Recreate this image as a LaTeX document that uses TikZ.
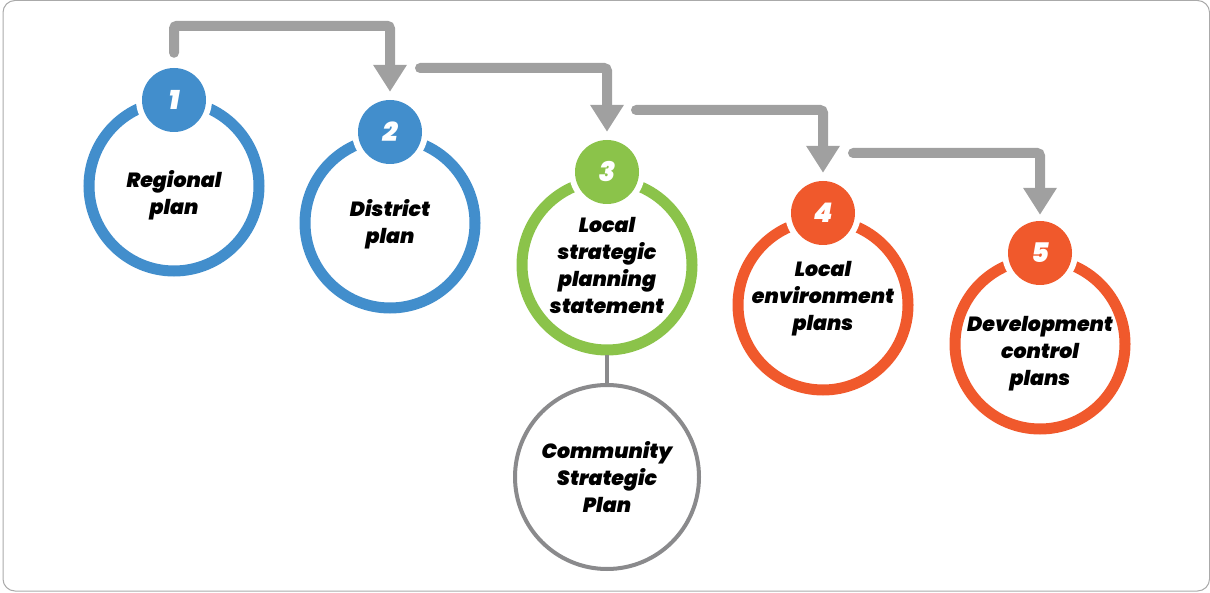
\documentclass[tikz,border=0pt]{standalone}
\usepackage{fontspec}
\IfFontExistsTF{Poppins Black Italic}
  {\setmainfont{Poppins}[BoldItalicFont={Poppins Black Italic}]}
  {\IfFontExistsTF{Poppins ExtraBold Italic}
    {\setmainfont{Poppins}[BoldItalicFont={Poppins ExtraBold Italic}]}
    {\setmainfont{Poppins}}}
\usetikzlibrary{arrows.meta}
\definecolor{planblue}{RGB}{66,142,204}
\definecolor{plangreen}{RGB}{139,195,74}
\definecolor{planorange}{RGB}{240,89,44}
\definecolor{arrowgray}{RGB}{160,160,160}
\definecolor{ringgray}{RGB}{138,138,140}
\definecolor{framegray}{RGB}{170,170,170}

\begin{document}
\begin{tikzpicture}[x=1pt, y=-1pt,
    ring/.style={circle, draw=#1, line width=11pt, minimum size=170pt, inner sep=0pt},
    badge/.style={circle, fill=#1, minimum size=64pt, inner sep=0pt,
      preaction={draw=white, line width=12pt}, text=white,
      font=\fontsize{27}{27}\selectfont\bfseries\itshape},
    txt/.style={align=center, font=\fontsize{20.5}{27}\selectfont\bfseries\itshape},
    flow/.style={draw=arrowgray, line width=10pt, rounded corners=3pt, line cap=round,
      -{Triangle[width=32pt, length=27pt]}}]
    \useasboundingbox (0,0) rectangle (1210,593);
    \draw[framegray, line width=1pt, rounded corners=12pt] (3,0.5) rectangle (1209.5,591);

    \node[ring=planblue] (r1) at (174,186) {};
    \node[ring=planblue] (r2) at (390,223) {};
    \node[ring=plangreen] (r3) at (607,265) {};
    \node[ring=planorange] (r4) at (823,305) {};
    \node[ring=planorange] (r5) at (1040,344) {};
    \node[ring=ringgray, line width=4pt, minimum size=184pt] (csp) at (607,477) {};

    \node[txt] (t1) at (174,195) {Regional\\plan};
    \node[txt] (t2) at (390,224) {District\\plan};
    \node[txt] (t3) at (607,265) {Local\\strategic\\planning\\statement};
    \node[txt] (t4) at (823,299) {Local\\environment\\plans};
    \node[txt] (t5) at (1040,354) {Development\\control\\plans};
    \node[txt] (t6) at (607,477) {Community\\Strategic\\Plan};

    \node[badge=planblue] (b1) at (174,100) {1};
    \node[badge=planblue] (b2) at (390,132) {2};
    \node[badge=plangreen] (b3) at (607,172) {3};
    \node[badge=planorange] (b4) at (823,213) {4};
    \node[badge=planorange] (b5) at (1040,253) {5};

    \coordinate (s2) at (420,68);
    \coordinate (s3) at (636,110);
    \coordinate (s4) at (853,153);

    \draw[flow] ([yshift=15pt]b1.north) -- ++(0,-27) -| ([yshift=8pt]b2.north);
    \draw[flow] (s2) -| ([yshift=8pt]b3.north);
    \draw[flow] (s3) -| ([yshift=8pt]b4.north);
    \draw[flow] (s4) -| ([yshift=6pt]b5.north);
    \draw[ringgray, line width=4pt] (r3) -- (csp);
\end{tikzpicture}
\end{document}
